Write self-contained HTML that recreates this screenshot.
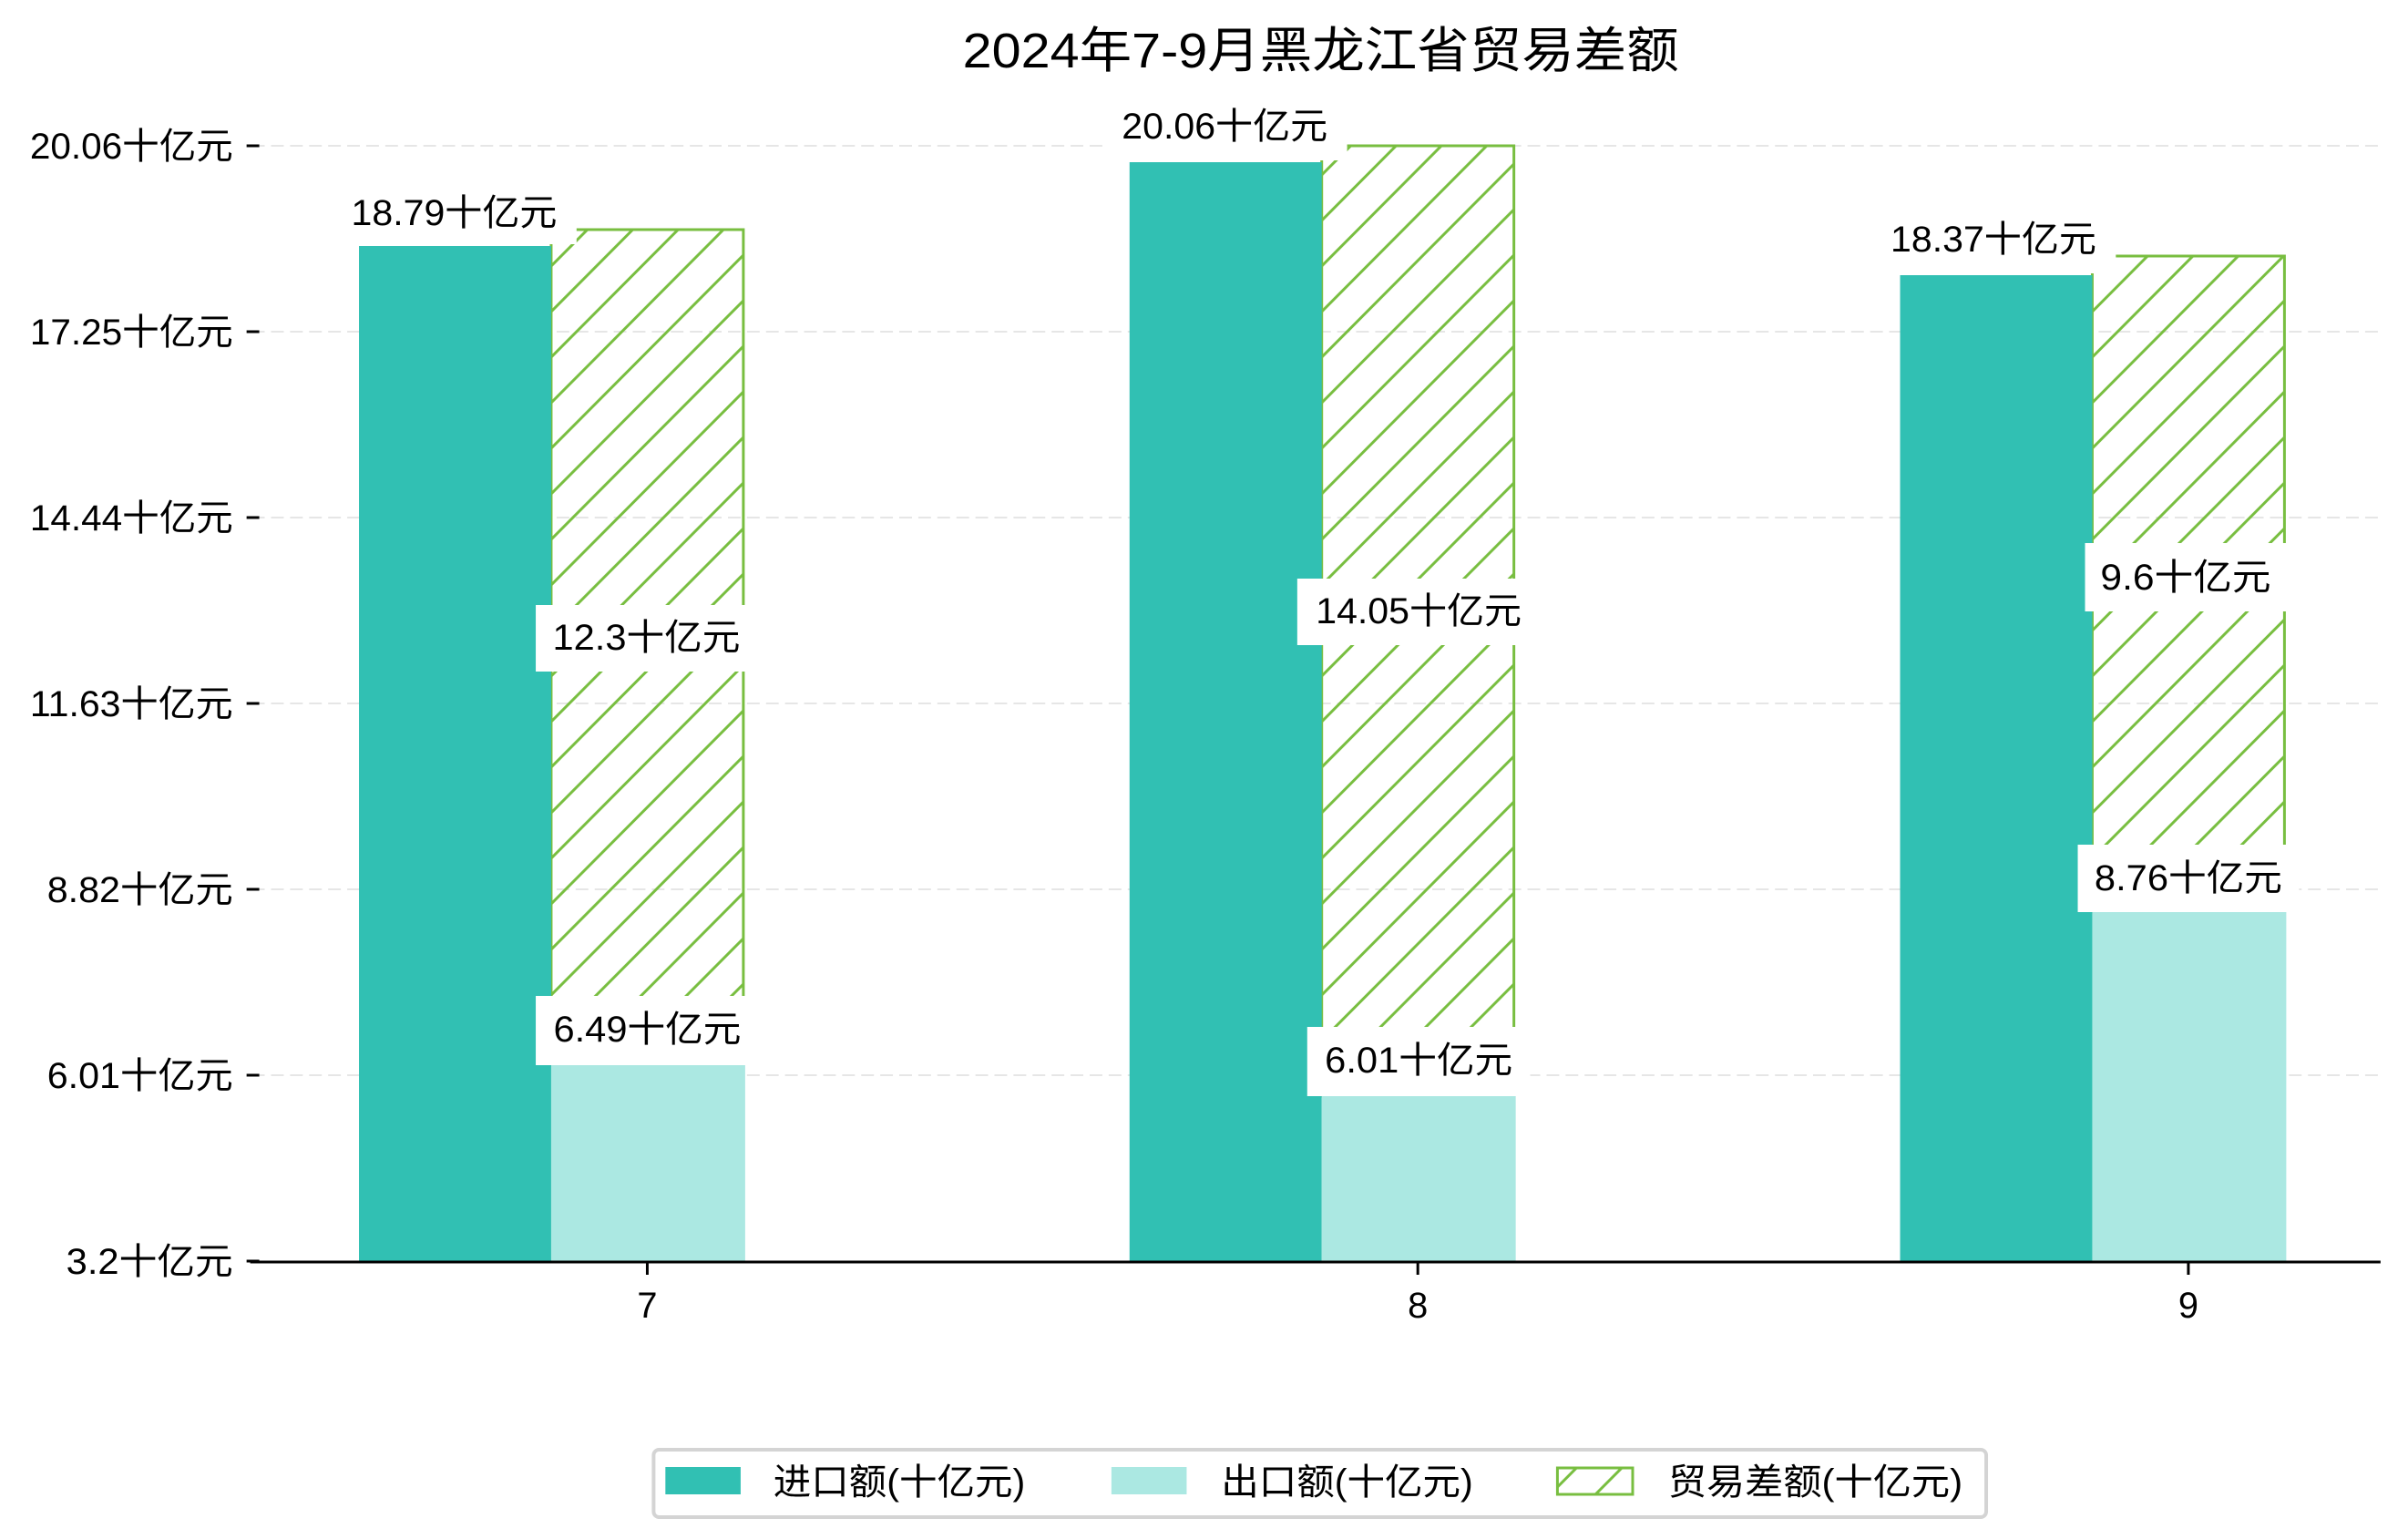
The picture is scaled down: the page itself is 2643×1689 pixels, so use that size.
<!DOCTYPE html>
<html><head><meta charset="utf-8"><style>
html,body{margin:0;padding:0;background:#fff;}
svg{display:block;}
text{font-family:"Liberation Sans","Noto Sans CJK SC","WenQuanYi Zen Hei",sans-serif;fill:#000;}
</style></head><body>
<svg width="2643" height="1689" viewBox="0 0 2643 1689" xmlns="http://www.w3.org/2000/svg">
<defs>
<pattern id="h" patternUnits="userSpaceOnUse" width="50" height="50">
<path d="M-5,5 L5,-5 M0,50 L50,0 M45,55 L55,45" stroke="#78be40" stroke-width="3"/>
</pattern>
</defs>
<rect width="2643" height="1689" fill="#fff"/>
<g transform="scale(0.995,1)">
<text x="1457" y="74" font-size="54" text-anchor="middle" textLength="790" lengthAdjust="spacingAndGlyphs">2024年7-9月黑龙江省贸易差额</text>
<g stroke="#e6e6e6" stroke-width="2" stroke-dasharray="14,7">
<line x1="278" y1="1180" x2="2626" y2="1180"/>
<line x1="278" y1="976" x2="2626" y2="976"/>
<line x1="278" y1="772" x2="2626" y2="772"/>
<line x1="278" y1="568" x2="2626" y2="568"/>
<line x1="278" y1="364" x2="2626" y2="364"/>
<line x1="278" y1="160" x2="2626" y2="160"/>
</g>
<rect x="608" y="252" width="212" height="917" fill="url(#h)" stroke="#78be40" stroke-width="3"/>
<rect x="396" y="270" width="212" height="1114" fill="#31c0b3"/>
<rect x="608" y="1169" width="214" height="215" fill="#abe8e2"/>
<rect x="1458" y="160" width="212" height="1043" fill="url(#h)" stroke="#78be40" stroke-width="3"/>
<rect x="1246" y="178" width="212" height="1206" fill="#31c0b3"/>
<rect x="1458" y="1203" width="214" height="181" fill="#abe8e2"/>
<rect x="2308" y="281" width="212" height="720" fill="url(#h)" stroke="#78be40" stroke-width="3"/>
<rect x="2096" y="302" width="212" height="1082" fill="#31c0b3"/>
<rect x="2308" y="1001" width="214" height="383" fill="#abe8e2"/>
<g fill="#fff">
<rect x="374" y="200" width="262" height="68"/>
<rect x="591" y="664" width="237" height="73"/>
<rect x="591" y="1093" width="237" height="76"/>
<rect x="1222" y="110" width="264" height="66"/>
<rect x="1431" y="635" width="263" height="73"/>
<rect x="1442" y="1127" width="246" height="76"/>
<rect x="2070" y="237" width="264" height="63"/>
<rect x="2300" y="596" width="224" height="75"/>
<rect x="2292" y="927" width="244" height="74"/>
</g>
<g font-size="40" text-anchor="middle">
<text x="501" y="247" textLength="227" lengthAdjust="spacingAndGlyphs">18.79十亿元</text>
<text x="713" y="713" textLength="207" lengthAdjust="spacingAndGlyphs">12.3十亿元</text>
<text x="714" y="1143" textLength="207" lengthAdjust="spacingAndGlyphs">6.49十亿元</text>
<text x="1351" y="152" textLength="227" lengthAdjust="spacingAndGlyphs">20.06十亿元</text>
<text x="1565" y="684" textLength="227" lengthAdjust="spacingAndGlyphs">14.05十亿元</text>
<text x="1565" y="1177" textLength="207" lengthAdjust="spacingAndGlyphs">6.01十亿元</text>
<text x="2199" y="276" textLength="227" lengthAdjust="spacingAndGlyphs">18.37十亿元</text>
<text x="2411" y="647" textLength="188" lengthAdjust="spacingAndGlyphs">9.6十亿元</text>
<text x="2414" y="977" textLength="207" lengthAdjust="spacingAndGlyphs">8.76十亿元</text>
</g>
<line x1="276" y1="1385" x2="2626" y2="1385" stroke="#000" stroke-width="3"/>
<g stroke="#000" stroke-width="3">
<line x1="272" y1="1384" x2="286" y2="1384"/>
<line x1="272" y1="1180" x2="286" y2="1180"/>
<line x1="272" y1="976" x2="286" y2="976"/>
<line x1="272" y1="772" x2="286" y2="772"/>
<line x1="272" y1="568" x2="286" y2="568"/>
<line x1="272" y1="364" x2="286" y2="364"/>
<line x1="272" y1="160" x2="286" y2="160"/>
<line x1="714" y1="1385" x2="714" y2="1399"/>
<line x1="1564" y1="1385" x2="1564" y2="1399"/>
<line x1="2414" y1="1385" x2="2414" y2="1399"/>
</g>
<g font-size="40" text-anchor="end">
<text x="257" y="1398" textLength="184" lengthAdjust="spacingAndGlyphs">3.2十亿元</text>
<text x="257" y="1194" textLength="205" lengthAdjust="spacingAndGlyphs">6.01十亿元</text>
<text x="257" y="990" textLength="205" lengthAdjust="spacingAndGlyphs">8.82十亿元</text>
<text x="257" y="786" textLength="224" lengthAdjust="spacingAndGlyphs">11.63十亿元</text>
<text x="257" y="582" textLength="224" lengthAdjust="spacingAndGlyphs">14.44十亿元</text>
<text x="257" y="378" textLength="224" lengthAdjust="spacingAndGlyphs">17.25十亿元</text>
<text x="257" y="174" textLength="224" lengthAdjust="spacingAndGlyphs">20.06十亿元</text>
</g>
<g font-size="40" text-anchor="middle">
<text x="714" y="1446">7</text>
<text x="1564" y="1446">8</text>
<text x="2414" y="1446">9</text>
</g>
<rect x="721" y="1591" width="1470" height="74" rx="6" fill="#fff" stroke="#d4d4d4" stroke-width="4"/>
<rect x="734" y="1610" width="83" height="30" fill="#31c0b3"/>
<rect x="1226" y="1610" width="83" height="30" fill="#abe8e2"/>
<rect x="1718" y="1611" width="83" height="29" fill="url(#h)" stroke="#78be40" stroke-width="3"/>
<g font-size="40">
<text x="853" y="1640" textLength="278" lengthAdjust="spacingAndGlyphs">进口额(十亿元)</text>
<text x="1347" y="1640" textLength="278" lengthAdjust="spacingAndGlyphs">出口额(十亿元)</text>
<text x="1840" y="1640" textLength="325" lengthAdjust="spacingAndGlyphs">贸易差额(十亿元)</text>
</g>
</g>
</svg>
</body></html>
